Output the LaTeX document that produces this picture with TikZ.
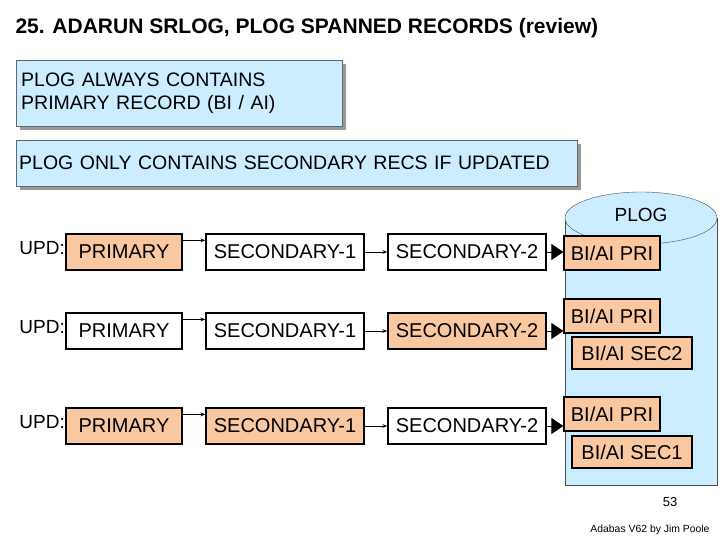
\documentclass[tikz,border=0pt]{standalone}
\usepackage{fontspec}
\setmainfont{Liberation Sans}
\usetikzlibrary{arrows.meta}
\definecolor{peach}{RGB}{250,200,160}
\definecolor{lblue}{RGB}{204,236,255}
\begin{document}
\begin{tikzpicture}[x=1pt,y=-1pt,
  rec/.style={draw=black,line width=1.2pt,minimum height=36pt,inner sep=1pt,font=\fontsize{20}{22}\selectfont},
  pk/.style={rec,fill=peach},
  wh/.style={rec,fill=white},
  note/.style={draw=black!60,fill=lblue,align=left,font=\fontsize{19.5}{23}\selectfont,inner sep=4pt},
  small/.style={->,>={Stealth[length=5pt]},line width=1pt},
  big/.style={-{Triangle[length=12pt,width=16pt]},line width=1pt}]
\useasboundingbox (0,0) rectangle (720,540);
\node[anchor=west,font=\bfseries\fontsize{21}{24}\selectfont] (title) at (12,28) {25. ADARUN SRLOG, PLOG SPANNED RECORDS (review)};
\fill[black!40] (20,64) rectangle (346,130);
\node[note,minimum width=326pt,minimum height=66pt,anchor=north west,text width=316pt] (n1) at (16,60) {PLOG ALWAYS CONTAINS\\PRIMARY RECORD (BI / AI)};
\fill[black!40] (20,144) rectangle (581,190);
\node[note,minimum width=561pt,minimum height=46pt,anchor=north west,text width=555pt,inner sep=2pt] (n2) at (16,140) {PLOG ONLY CONTAINS SECONDARY RECS IF UPDATED};
% cylinder
\draw[draw=black!70,fill=lblue] (565,218) -- (565,485) -- (717,485) -- (717,218);
\draw[draw=black!70,fill=lblue] (641,218) ellipse (76 and 26);
\node[font=\fontsize{19}{21}\selectfont] (plog) at (641,215) {PLOG};
% rows
\foreach \r/\y/\a/\b/\c in {1/252/pk/wh/wh,2/331/wh/wh/pk,3/426/pk/pk/wh}{
  \node[font=\fontsize{19}{21}\selectfont,anchor=east,inner sep=1pt] (u\r) at (66,\y-4) {UPD:};
  \node[\a,minimum width=116pt] (p\r) at (124,\y) {PRIMARY};
  \node[\b,minimum width=158pt] (s\r) at (285,\y) {SECONDARY-1};
  \node[\c,minimum width=158pt] (t\r) at (467,\y) {SECONDARY-2};
  \draw[small] (p\r.north east) ++(0,7) coordinate (c\r) -- (c\r -| s\r.west);
  \draw[small] (s\r) -- (t\r);
}
\node[pk,minimum width=96pt,minimum height=34pt] (b1) at (612,253) {BI/AI PRI};
\node[pk,minimum width=96pt,minimum height=34pt] (b2) at (612,316) {BI/AI PRI};
\node[pk,minimum width=120pt,minimum height=32pt] (c2) at (632,353) {BI/AI SEC2};
\node[pk,minimum width=96pt,minimum height=34pt] (b3) at (612,414) {BI/AI PRI};
\node[pk,minimum width=120pt,minimum height=32pt] (c3) at (632,452) {BI/AI SEC1};
\draw[big] (t1) -- (b1.west |- t1);
\draw[big] (t2) -- (b2.west |- t2);
\draw[big] (t3) -- (b3.west |- t3);
\node[font=\fontsize{13}{14}\selectfont] (pg) at (670,502) {53};
\node[font=\fontsize{10.4}{11}\selectfont] (cr) at (650,530) {Adabas V62 by Jim Poole};
\end{tikzpicture}
\end{document}
